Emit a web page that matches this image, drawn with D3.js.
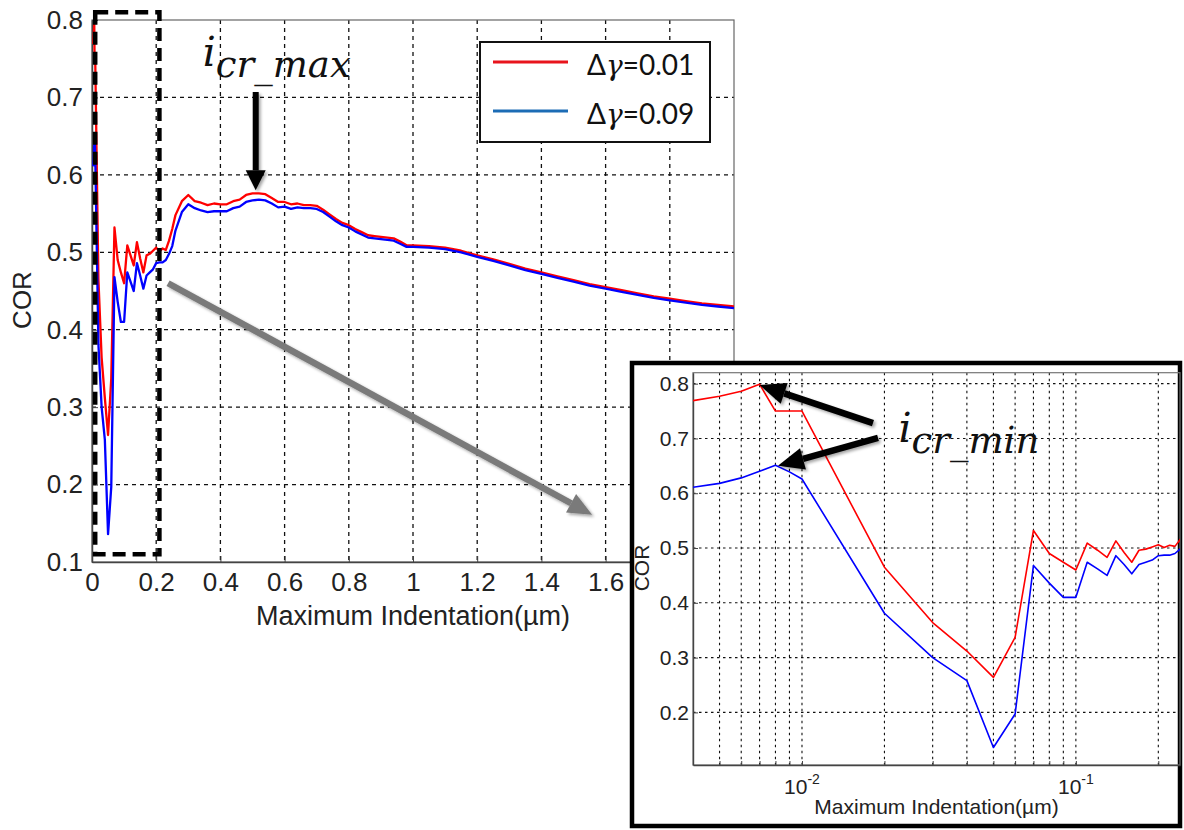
<!DOCTYPE html>
<html>
<head>
<meta charset="utf-8">
<script src="https://cdn.jsdelivr.net/npm/d3@7"></script>
<style>
  body { margin: 0; background: #fff; }
  svg text { font-family: "Liberation Sans", Arial, sans-serif; }
</style>
</head>
<body>
<div id="content"></div>
<script>
// maximum indentation (µm)
const indentation = [
  0.004, 0.005, 0.006, 0.007, 0.008, 0.009, 0.010,
  0.02, 0.03, 0.04, 0.05, 0.06, 0.07, 0.08, 0.09, 0.10, 0.11, 0.12, 0.13, 0.14, 0.15, 0.16, 0.17, 0.18, 0.19, 0.20, 0.21, 0.22, 0.23, 0.24,
  0.25, 0.26, 0.28, 0.30, 0.32, 0.34, 0.36, 0.38, 0.40, 0.42, 0.44, 0.46, 0.48, 0.50,
  0.52, 0.54, 0.56, 0.58, 0.60, 0.62, 0.64, 0.66, 0.68, 0.70, 0.72, 0.74, 0.76, 0.78, 0.80, 0.82, 0.84, 0.86, 0.88, 0.90, 0.92, 0.94, 0.96, 0.98, 1.00,
  1.05, 1.10, 1.15, 1.20, 1.25, 1.30, 1.35, 1.40, 1.45, 1.50, 1.55, 1.60, 1.65, 1.70, 1.75, 1.80, 1.85, 1.90, 1.95, 2.00
];
// COR, Δγ=0.01
const corLow = [
  0.769, 0.777, 0.786, 0.799, 0.750, 0.750, 0.750,
  0.465, 0.364, 0.312, 0.264, 0.337, 0.532, 0.490, 0.474, 0.460, 0.509, 0.496, 0.483, 0.513, 0.492, 0.474, 0.496, 0.498, 0.502, 0.506, 0.501, 0.505, 0.503, 0.515,
  0.530, 0.548, 0.566, 0.574, 0.566, 0.564, 0.561, 0.563, 0.562, 0.562, 0.566, 0.568, 0.574, 0.576,
  0.576, 0.575, 0.570, 0.565, 0.565, 0.562, 0.563, 0.561, 0.561, 0.560, 0.555, 0.549, 0.543, 0.538, 0.535, 0.530, 0.526, 0.522, 0.521, 0.520, 0.519, 0.518, 0.514, 0.509, 0.509,
  0.508, 0.506, 0.502, 0.496, 0.491, 0.485, 0.479, 0.474, 0.469, 0.464, 0.459, 0.455, 0.451, 0.447, 0.443, 0.440, 0.437, 0.434, 0.432, 0.430
];
// COR, Δγ=0.09
const corHigh = [
  0.611, 0.618, 0.628, 0.640, 0.651, 0.639, 0.626,
  0.381, 0.300, 0.258, 0.136, 0.197, 0.468, 0.436, 0.410, 0.410, 0.474, 0.462, 0.450, 0.486, 0.470, 0.453, 0.470, 0.474, 0.478, 0.486, 0.487, 0.487, 0.490, 0.498,
  0.508, 0.528, 0.552, 0.562, 0.557, 0.554, 0.552, 0.553, 0.553, 0.553, 0.557, 0.559, 0.565, 0.567,
  0.568, 0.567, 0.563, 0.558, 0.559, 0.556, 0.558, 0.557, 0.557, 0.556, 0.552, 0.546, 0.540, 0.535, 0.532, 0.527, 0.523, 0.519, 0.518, 0.517, 0.516, 0.515, 0.511, 0.507, 0.507,
  0.506, 0.504, 0.500, 0.494, 0.489, 0.483, 0.477, 0.472, 0.467, 0.462, 0.457, 0.453, 0.449, 0.445, 0.441, 0.438, 0.435, 0.432, 0.430, 0.428
];

const xTicks = [0, 0.2, 0.4, 0.6, 0.8, 1, 1.2, 1.4, 1.6, 1.8, 2];
const xTickLabels = ['0', '0.2', '0.4', '0.6', '0.8', '1', '1.2', '1.4', '1.6', '', ''];  // 1.8 and 2 sit under the inset
const yTicks = [0.1, 0.2, 0.3, 0.4, 0.5, 0.6, 0.7, 0.8];
const insetYTicks = [0.2, 0.3, 0.4, 0.5, 0.6, 0.7, 0.8];
const insetXTicks = [0.01, 0.1];
const insetMinor = [0.005, 0.006, 0.007, 0.008, 0.009, 0.02, 0.03, 0.04, 0.05, 0.06, 0.07, 0.08, 0.09, 0.2];
const legendLabels = ['=0.01', '=0.09'];
const legendColors = ['#e8141c', '#1c6cb5'];
const lineColors = ['#ff0000', '#0000ff'];

const rows = indentation.map((d, i) => ({x: d, low: corLow[i], high: corHigh[i]}));

const width = 1184, height = 830;
const svg = d3.select('#content').append('svg')
              .attr('width', width).attr('height', height);

const defs = svg.append('defs');
defs.append('filter').attr('id', 'shadow')
    .attr('x', '-20%').attr('y', '-20%').attr('width', '140%').attr('height', '140%')
    .append('feDropShadow')
    .attr('dx', 2).attr('dy', 2).attr('stdDeviation', 1.8)
    .attr('flood-color', '#000').attr('flood-opacity', 0.35);

function arrow(g, x1, y1, x2, y2, color, w, headLen, headW){
    const a = Math.atan2(y2 - y1, x2 - x1);
    const bx = x2 - headLen * Math.cos(a), by = y2 - headLen * Math.sin(a);
    const px = Math.sin(a) * headW / 2, py = -Math.cos(a) * headW / 2;
    const grp = g.append('g').attr('filter', 'url(#shadow)');
    grp.append('line')
       .attr('x1', x1).attr('y1', y1).attr('x2', bx).attr('y2', by)
       .attr('stroke', color).attr('stroke-width', w);
    grp.append('path')
       .attr('d', `M${x2},${y2}L${bx + px},${by + py}L${bx - px},${by - py}Z`)
       .attr('fill', color);
}

// ---------- main chart ----------
const x = d3.scaleLinear().domain([0, 2]).range([92, 734]);
const y = d3.scaleLinear().domain([0.1, 0.8]).range([562, 20]);

const main = svg.append('g');

main.append('g')
    .selectAll('line')
    .data(xTicks.filter(d => d > 0 && d < 2))
    .join('line')
    .attr('x1', d => x(d)).attr('x2', d => x(d))
    .attr('y1', y(0.8)).attr('y2', y(0.1))
    .attr('stroke', '#111').attr('stroke-width', 1.3).attr('stroke-dasharray', '4,4');

main.append('g')
    .selectAll('line')
    .data(yTicks.filter(d => d > 0.1 && d < 0.8))
    .join('line')
    .attr('x1', x(0)).attr('x2', x(2))
    .attr('y1', d => y(d)).attr('y2', d => y(d))
    .attr('stroke', '#111').attr('stroke-width', 1.3).attr('stroke-dasharray', '4,4');

main.append('rect')
    .attr('x', x(0)).attr('y', y(0.8))
    .attr('width', x(2) - x(0)).attr('height', y(0.1) - y(0.8))
    .attr('fill', 'none').attr('stroke', '#666').attr('stroke-width', 1.2);

const xAxis = d3.axisBottom(x).tickValues(xTicks).tickSizeInner(-6).tickSizeOuter(0)
                .tickPadding(11).tickFormat((d, i) => xTickLabels[i]);
main.append('g')
    .attr('transform', `translate(0,${y(0.1)})`)
    .call(xAxis)
    .call(g => g.select('.domain').attr('stroke', '#444').attr('stroke-width', 1.5))
    .call(g => g.selectAll('.tick line').attr('stroke', '#444'))
    .call(g => g.selectAll('text').attr('font-size', 26).attr('fill', '#222'));

const yAxis = d3.axisLeft(y).tickValues(yTicks).tickSizeInner(-6).tickSizeOuter(0)
                .tickPadding(9).tickFormat(d3.format('.1f'));
main.append('g')
    .attr('transform', `translate(${x(0)},0)`)
    .call(yAxis)
    .call(g => g.select('.domain').attr('stroke', '#444').attr('stroke-width', 1.5))
    .call(g => g.selectAll('.tick line').attr('stroke', '#444'))
    .call(g => g.selectAll('text').attr('font-size', 26).attr('fill', '#222'));

main.append('text')
    .attr('x', (x(0) + x(2)) / 2).attr('y', 625)
    .attr('text-anchor', 'middle').attr('font-size', 27).attr('fill', '#222')
    .text('Maximum Indentation(µm)');

main.append('text')
    .attr('transform', 'translate(31,300) rotate(-90)')
    .attr('text-anchor', 'middle').attr('font-size', 26).attr('fill', '#222')
    .text('COR');

defs.append('clipPath').attr('id', 'mainClip')
    .append('rect')
    .attr('x', x(0)).attr('y', y(0.8) - 2)
    .attr('width', x(2) - x(0)).attr('height', y(0.1) - y(0.8) + 2);

const mainLine = key => d3.line().x(d => x(d.x)).y(d => y(d[key]));
const curves = main.append('g').attr('clip-path', 'url(#mainClip)');
['low', 'high'].forEach((k, i) => {
    curves.append('path')
          .datum(rows)
          .attr('d', mainLine(k))
          .attr('fill', 'none')
          .attr('stroke', lineColors[i])
          .attr('stroke-width', 2.3)
          .attr('stroke-linejoin', 'round');
});

// legend
const legend = main.append('g').attr('transform', 'translate(480,42)');
legend.append('rect')
      .attr('width', 230).attr('height', 100)
      .attr('fill', '#fff').attr('stroke', '#111').attr('stroke-width', 2);
legendLabels.forEach((lab, i) => {
    const ly = 20 + i * 49;
    legend.append('line')
          .attr('x1', 13).attr('x2', 88).attr('y1', ly).attr('y2', ly)
          .attr('stroke', legendColors[i]).attr('stroke-width', 3.2);
    const t = legend.append('text')
          .attr('x', 107).attr('y', ly + 13)
          .attr('font-size', 28).attr('fill', '#111');
    t.append('tspan').style('font-family', 'Lato').text('Δ');
    t.append('tspan').style('font-family', '"DejaVu Serif"').attr('font-style', 'italic').text('γ');
    t.append('tspan').style('font-family', 'Lato').text(lab);
});

// highlight box round the small-indentation region
main.append('rect')
    .attr('x', x(0.01)).attr('y', y(0.81))
    .attr('width', x(0.21) - x(0.01)).attr('height', y(0.11) - y(0.81))
    .attr('fill', 'none').attr('stroke', '#000').attr('stroke-width', 4.5)
    .attr('stroke-dasharray', '13,7');

// i_cr_max
const tmax = main.append('text')
    .attr('x', x(0.345)).attr('y', y(0.74))
    .attr('fill', '#111').attr('font-style', 'italic');
tmax.append('tspan').style('font-family', '"DejaVu Serif"').attr('font-size', 41).text('i');
tmax.append('tspan').style('font-family', '"DejaVu Serif"').attr('font-size', 37).attr('dy', 11).text('cr_max');

arrow(main, x(0.51), y(0.707), x(0.51), y(0.58), '#000', 6, 20, 20);

// grey arrow towards the inset
arrow(main, x(0.237), y(0.46), x(1.558), y(0.161), '#7a7a7a', 6.5, 24, 21);

// ---------- inset ----------
const inset = svg.append('g');
inset.append('rect')
     .attr('x', 632).attr('y', 363).attr('width', 548).attr('height', 463)
     .attr('fill', '#fff').attr('stroke', '#000').attr('stroke-width', 4.5);

const xi = d3.scaleLog().domain([0.004, 0.24]).range([693, 1180]);
const yi = d3.scaleLinear().domain([0.104, 0.82]).range([765, 372.7]);

inset.append('g')
     .selectAll('line')
     .data(insetMinor.concat(insetXTicks))
     .join('line')
     .attr('x1', d => xi(d)).attr('x2', d => xi(d))
     .attr('y1', yi(0.82)).attr('y2', yi(0.104))
     .attr('stroke', '#111').attr('stroke-width', 1.1).attr('stroke-dasharray', '2.5,3.5');

inset.append('g')
     .selectAll('line')
     .data(insetYTicks)
     .join('line')
     .attr('x1', xi(0.004)).attr('x2', xi(0.24))
     .attr('y1', d => yi(d)).attr('y2', d => yi(d))
     .attr('stroke', '#111').attr('stroke-width', 1.1).attr('stroke-dasharray', '2.5,3.5');

inset.append('rect')
     .attr('x', xi(0.004)).attr('y', yi(0.82))
     .attr('width', xi(0.24) - xi(0.004)).attr('height', yi(0.104) - yi(0.82))
     .attr('fill', 'none').attr('stroke', '#777').attr('stroke-width', 1.2);

const yiAxis = d3.axisLeft(yi).tickValues(insetYTicks).tickSizeInner(-5).tickSizeOuter(0)
                 .tickPadding(4).tickFormat(d3.format('.1f'));
inset.append('g')
     .attr('transform', `translate(${xi(0.004)},0)`)
     .call(yiAxis)
     .call(g => g.select('.domain').attr('stroke', '#444').attr('stroke-width', 1.4))
     .call(g => g.selectAll('.tick line').attr('stroke', '#444'))
     .call(g => g.selectAll('text').attr('font-size', 21).attr('fill', '#222'));

const xiAxis = d3.axisBottom(xi).tickValues(insetMinor.concat(insetXTicks))
                 .tickSizeInner(-4).tickSizeOuter(0).tickFormat('');
inset.append('g')
     .attr('transform', `translate(0,${yi(0.104)})`)
     .call(xiAxis)
     .call(g => g.select('.domain').attr('stroke', '#444').attr('stroke-width', 1.4))
     .call(g => g.selectAll('.tick line').attr('stroke', '#444'));

inset.append('g')
     .selectAll('text')
     .data(insetXTicks)
     .join('text')
     .attr('x', d => xi(d)).attr('y', yi(0.104) + 29)
     .attr('text-anchor', 'middle').attr('font-size', 21).attr('fill', '#222')
     .each(function(d){
         const t = d3.select(this);
         t.append('tspan').text('10');
         t.append('tspan').attr('dy', -10).attr('font-size', 14).text(Math.round(Math.log10(d)));
     });

inset.append('text')
     .attr('x', (xi(0.004) + xi(0.24)) / 2).attr('y', 814)
     .attr('text-anchor', 'middle').attr('font-size', 21).attr('fill', '#222')
     .text('Maximum Indentation(µm)');

inset.append('text')
     .attr('transform', 'translate(649,568) rotate(-90)')
     .attr('text-anchor', 'middle').attr('font-size', 21).attr('fill', '#222')
     .text('COR');

defs.append('clipPath').attr('id', 'insetClip')
    .append('rect')
    .attr('x', xi(0.004)).attr('y', yi(0.82))
    .attr('width', xi(0.24) - xi(0.004)).attr('height', yi(0.104) - yi(0.82));

const insetLine = key => d3.line().x(d => xi(d.x)).y(d => yi(d[key]));
const insetCurves = inset.append('g').attr('clip-path', 'url(#insetClip)');
['low', 'high'].forEach((k, i) => {
    insetCurves.append('path')
               .datum(rows.filter(d => d.x <= 0.25))
               .attr('d', insetLine(k))
               .attr('fill', 'none')
               .attr('stroke', lineColors[i])
               .attr('stroke-width', 1.6)
               .attr('stroke-linejoin', 'round');
});

// i_cr_min with arrows to the two peaks
const tmin = inset.append('text')
    .attr('x', xi(0.0225)).attr('y', yi(0.6935))
    .attr('fill', '#111').attr('font-style', 'italic');
tmin.append('tspan').style('font-family', '"DejaVu Serif"').attr('font-size', 41).text('i');
tmin.append('tspan').style('font-family', '"DejaVu Serif"').attr('font-size', 37).attr('dy', 11).text('cr_min');

arrow(inset, xi(0.01816), yi(0.728), xi(0.007), yi(0.7975), '#000', 6.5, 26, 22);
arrow(inset, xi(0.01895), yi(0.701), xi(0.00817), yi(0.65), '#000', 6.5, 26, 22);
</script>
</body>
</html>
